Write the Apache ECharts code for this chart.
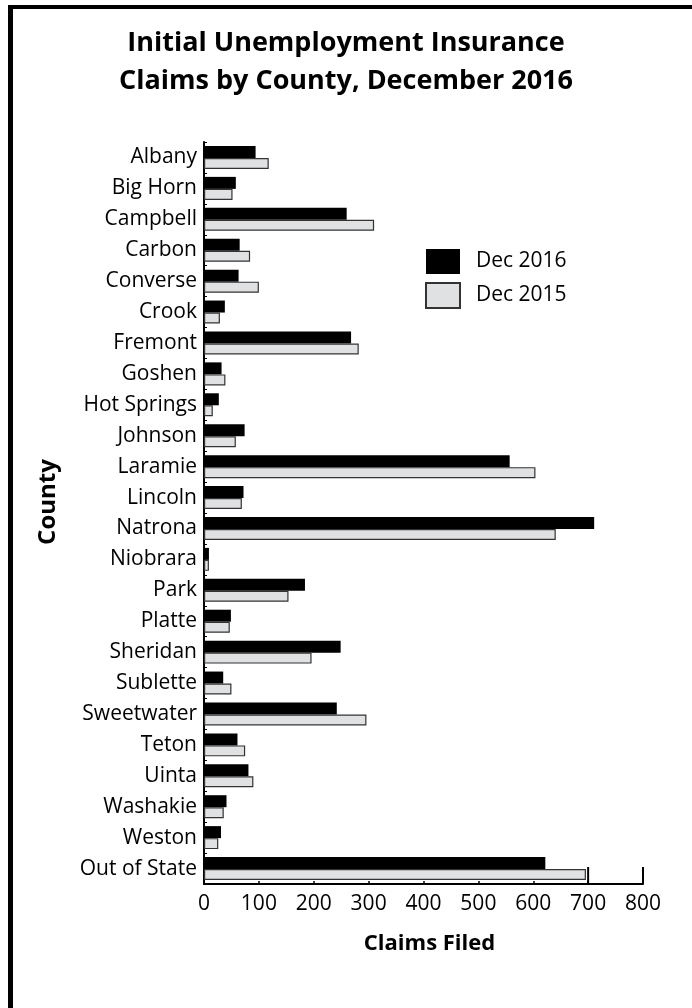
<!DOCTYPE html>
<html>
<head>
<meta charset="utf-8">
<script src="https://cdn.jsdelivr.net/npm/echarts@6/dist/echarts.min.js"></script>
<style>
  html, body { margin: 0; padding: 0; background: #fff; }
  #chart { width: 692px; height: 1008px; }
</style>
</head>
<body>
<div id="chart"></div>
<script>
// Initial UI claims per county, December 2016 vs December 2015
const counties = [
  'Albany', 'Big Horn', 'Campbell', 'Carbon', 'Converse', 'Crook', 'Fremont',
  'Goshen', 'Hot Springs', 'Johnson', 'Laramie', 'Lincoln', 'Natrona',
  'Niobrara', 'Park', 'Platte', 'Sheridan', 'Sublette', 'Sweetwater', 'Teton',
  'Uinta', 'Washakie', 'Weston', 'Out of State'
];
const dec2016 = [94, 58, 260, 65, 63, 38, 268, 32, 27, 74, 557, 72, 711,
  9, 184, 49, 249, 35, 242, 61, 81, 41, 31, 622];
const dec2015 = [118, 52, 310, 84, 100, 29, 282, 39, 16, 58, 604, 69, 641,
  9, 154, 47, 196, 50, 296, 75, 90, 36, 26, 696];
const xTicks = [0, 100, 200, 300, 400, 500, 600, 700, 800];
const tallTickValues = [700, 800];

const FONT = '"Open Sans", "Noto Sans", sans-serif';

const chart = echarts.init(document.getElementById('chart'), null, { renderer: 'canvas' });

chart.setOption({
  backgroundColor: '#ffffff',
  animation: false,
  textStyle: { fontFamily: FONT, color: '#000' },
  title: {
    text: 'Initial Unemployment Insurance\nClaims by County, December 2016',
    left: 'center',
    top: 19,
    textStyle: {
      fontFamily: FONT, fontWeight: 'bold', fontSize: 27,
      lineHeight: 38, color: '#000'
    }
  },
  legend: {
    orient: 'vertical',
    left: 425,
    top: 249,
    padding: 0,
    itemWidth: 34,
    itemHeight: 25,
    itemGap: 8,
    icon: 'rect',
    textStyle: { fontFamily: FONT, fontSize: 21, color: '#000', padding: [0, 0, 0, 11] },
    data: ['Dec 2016', 'Dec 2015']
  },
  grid: { left: 204, right: 49, top: 142, bottom: 124, containLabel: false },
  xAxis: {
    type: 'value',
    min: xTicks[0],
    max: xTicks[xTicks.length - 1],
    interval: 100,
    name: 'Claims Filed',
    nameLocation: 'middle',
    nameGap: 49,
    nameTextStyle: {
      fontFamily: FONT, fontWeight: 'bold', fontSize: 22, color: '#000',
      padding: [0, 0, 0, 12]
    },
    axisLine: { show: true, lineStyle: { color: '#000', width: 2 } },
    axisTick: { show: true, inside: true, length: 3, lineStyle: { color: '#000', width: 1.5 } },
    axisLabel: { fontFamily: FONT, fontSize: 21, color: '#000', margin: 10 },
    splitLine: { show: false }
  },
  yAxis: {
    type: 'category',
    data: counties,
    inverse: true,
    name: 'County',
    nameLocation: 'middle',
    nameGap: 144,
    nameRotate: 90,
    nameTextStyle: {
      fontFamily: FONT, fontWeight: 'bold', fontSize: 24, color: '#000',
      padding: [0, 0, 0, 22]
    },
    axisLine: { show: true, lineStyle: { color: '#000', width: 2 } },
    axisTick: { show: true, inside: true, length: 3, lineStyle: { color: '#000', width: 1 } },
    axisLabel: { fontFamily: FONT, fontSize: 21, color: '#000', margin: 7 }
  },
  series: [
    {
      name: 'Dec 2016',
      type: 'bar',
      data: dec2016,
      barWidth: 12,
      barGap: '0%',
      itemStyle: { color: '#000000' }
    },
    {
      name: 'Dec 2015',
      type: 'bar',
      data: dec2015,
      barWidth: 11,
      barGap: '0%',
      itemStyle: { color: '#e0e1e3', borderColor: '#333333', borderWidth: 1.2 }
    },
    {
      // two taller ticks standing on the x axis at the right end
      name: 'tallTicks',
      type: 'custom',
      silent: true,
      data: tallTickValues.map(v => [v]),
      renderItem: function (params, api) {
        const x = api.coord([api.value(0), 0])[0];
        const base = params.coordSys.y + params.coordSys.height;
        return {
          type: 'line',
          shape: { x1: x, y1: base, x2: x, y2: base - 17 },
          style: { stroke: '#000', lineWidth: 2 }
        };
      },
      z: 5
    }
  ],
  graphic: [
    { type: 'rect', shape: { x: 8, y: 5, width: 684, height: 4 }, style: { fill: '#000' } },
    { type: 'rect', shape: { x: 8, y: 5, width: 5, height: 1003 }, style: { fill: '#000' } }
  ]
});
</script>
</body>
</html>
